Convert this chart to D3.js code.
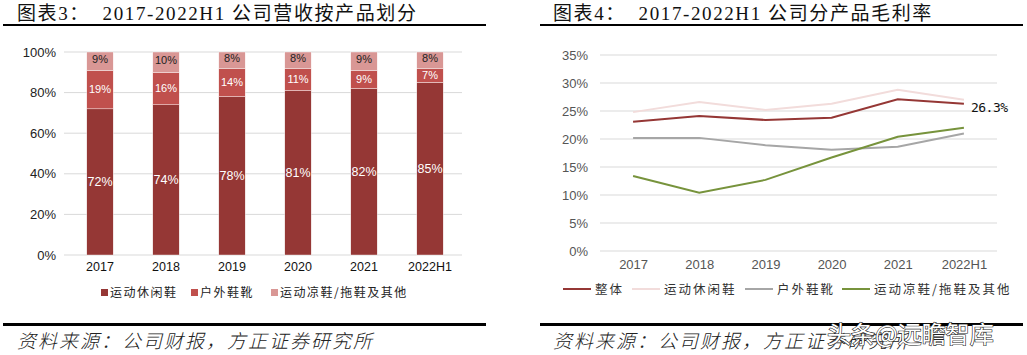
<!DOCTYPE html>
<html><head><meta charset="utf-8">
<script src="https://cdn.jsdelivr.net/npm/d3@7"></script>
<style>
body{margin:0;background:#fff;}
svg text{font-family:Arial,"Liberation Sans","Noto Sans CJK SC",sans-serif;}
</style></head>
<body><svg id="c" width="1027" height="355"></svg>
<script>
// ---- data ----
const categories = ["2017","2018","2019","2020","2021","2022H1"];
const shareCasual = [72,74,78,81,82,85];
const shareOutdoor = [19,16,14,11,9,7];
const shareSandal = [9,10,8,8,9,8];
const barSeriesNames = ["运动休闲鞋","户外鞋靴","运动凉鞋/拖鞋及其他"];
const barTicks = [0,20,40,60,80,100];

const marginTotal = [23.1,24.1,23.4,23.8,27.1,26.3];
const marginCasual = [24.8,26.6,25.2,26.3,28.8,27.0];
const marginOutdoor = [20.2,20.2,18.9,18.1,18.6,21.0];
const marginSandal = [13.4,10.4,12.7,16.7,20.4,22.0];
const lineSeriesNames = ["整体","运动休闲鞋","户外鞋靴","运动凉鞋/拖鞋及其他"];
const lineTicks = [0,5,10,15,20,25,30,35];

const titleLeft = "图表3：  2017-2022H1 公司营收按产品划分";
const titleRight = "图表4：  2017-2022H1 公司分产品毛利率";
const sourceText = "资料来源：公司财报，方正证券研究所";

const svg = d3.select("#c");
const barColors = ["#953735","#C0504D","#D99795"];
const lineColors = ["#953735","#F2DCDB","#A6A6A6","#77933C"];
const titleFont = '"Liberation Serif","Noto Sans CJK SC",serif';

function header(x0, x1, tx, title){
  svg.append("text").attr("x",tx).attr("y",20).attr("font-size",19).attr("letter-spacing",1.6)
    .style("font-family",titleFont).attr("fill","#111").attr("xml:space","preserve").text(title);
  svg.append("line").attr("x1",x0).attr("x2",x1).attr("y1",25).attr("y2",25).attr("stroke","#000").attr("stroke-width",2);
  svg.append("line").attr("x1",x0).attr("x2",x1).attr("y1",324.5).attr("y2",324.5).attr("stroke","#000").attr("stroke-width",3);
  svg.append("text").attr("x",tx).attr("y",348).attr("font-size",19).attr("letter-spacing",2)
    .style("font-family",'"Noto Sans CJK SC",sans-serif').style("font-style","italic").attr("font-weight",300)
    .attr("fill","#222").text(sourceText);
}
header(3,486,17,titleLeft);
header(540,1023,553,titleRight);

// ---- left: stacked bars ----
{
  const x = d3.scaleBand().domain(categories).range([67,463]).paddingInner(0.6).paddingOuter(0.3);
  const y = d3.scaleLinear().domain([0,100]).range([255,52]);
  const g = svg.append("g");
  g.selectAll("line.grid").data(barTicks).join("line")
    .attr("x1",64).attr("x2",462).attr("y1",d=>y(d)).attr("y2",d=>y(d)).attr("stroke","#d9d9d9").attr("stroke-width",1);
  const yAxis = d3.axisLeft(y).tickValues(barTicks).tickFormat(d=>d+"%").tickSize(0).tickPadding(0);
  const ya = g.append("g").attr("transform","translate(56,0)").call(yAxis);
  ya.select(".domain").remove();
  ya.selectAll("text").attr("font-size",13).attr("fill","#222").style("font-family","Arial,sans-serif");
  const xAxis = d3.axisBottom(x).tickSize(0).tickPadding(0);
  const xa = g.append("g").attr("transform","translate(0,262)").call(xAxis);
  xa.select(".domain").remove();
  xa.selectAll("text").attr("font-size",12.5).attr("fill","#111").style("font-family","Arial,sans-serif");

  const rows = categories.map((c,i)=>({cat:c, s0:shareCasual[i], s1:shareOutdoor[i], s2:shareSandal[i]}));
  const stack = d3.stack().keys(["s0","s1","s2"])(rows);
  stack.forEach((layer,k)=>{
    g.append("g").selectAll("rect").data(layer).join("rect")
      .attr("x",d=>x(d.data.cat)).attr("width",x.bandwidth())
      .attr("y",d=>y(d[1])).attr("height",d=>y(d[0])-y(d[1]))
      .attr("fill",barColors[k]).attr("stroke","#fff").attr("stroke-width",0.4);
    g.append("g").selectAll("text").data(layer).join("text")
      .attr("x",d=>x(d.data.cat)+x.bandwidth()/2)
      .attr("y",d=>(y(d[0])+y(d[1]))/2 + (k===2? -2: 0))
      .attr("dy","0.35em").attr("text-anchor","middle")
      .attr("font-size",k===0?12.5:11).attr("fill",k===2?"#222":"#fff")
      .style("font-family","Arial,sans-serif")
      .text(d=>(d[1]-d[0])+"%");
  });
  // legend
  const lx = [101,191,271];
  barSeriesNames.forEach((n,k)=>{
    svg.append("rect").attr("x",lx[k]).attr("y",289).attr("width",7).attr("height",7).attr("fill",barColors[k]);
    svg.append("text").attr("x",lx[k]+9).attr("y",297).attr("font-size",12).attr("fill","#222")
      .style("font-family",'"Noto Sans CJK SC",sans-serif').attr("letter-spacing",1.5).text(n);
  });
}

// ---- right: lines ----
{
  const x = d3.scalePoint().domain(categories).range([600,997]).padding(0.5);
  const y = d3.scaleLinear().domain([0,35]).range([251,55]);
  const g = svg.append("g");
  g.selectAll("line.grid").data(lineTicks).join("line")
    .attr("x1",600).attr("x2",997).attr("y1",d=>y(d)).attr("y2",d=>y(d)).attr("stroke","#d9d9d9").attr("stroke-width",1);
  const ya = g.append("g").attr("transform","translate(588,0)")
    .call(d3.axisLeft(y).tickValues(lineTicks).tickFormat(d=>d+"%").tickSize(0).tickPadding(0));
  ya.select(".domain").remove();
  ya.selectAll("text").attr("font-size",13).attr("fill","#555").style("font-family","Arial,sans-serif");
  const xa = g.append("g").attr("transform","translate(0,260)")
    .call(d3.axisBottom(x).tickSize(0).tickPadding(0));
  xa.select(".domain").remove();
  xa.selectAll("text").attr("font-size",13).attr("fill","#555").style("font-family","Arial,sans-serif");

  const series = [marginTotal, marginCasual, marginOutdoor, marginSandal];
  const line = d3.line().x((d,i)=>x(categories[i])).y(d=>y(d));
  [1,2,3,0].forEach(k=>{
    g.append("path").datum(series[k]).attr("d",line).attr("fill","none")
      .attr("stroke",lineColors[k]).attr("stroke-width",2);
  });
  const last = categories.length-1;
  g.append("text").attr("x",x(categories[last])+7).attr("y",y(marginTotal[last])+4).attr("dy","0.35em")
    .attr("font-size",13).attr("fill","#111").style("font-family",'"DejaVu Sans Mono",monospace')
    .attr("letter-spacing",-0.5).text(marginTotal[last].toFixed(1)+"%");

  const lx = [563,632,745,842];
  lineSeriesNames.forEach((n,k)=>{
    svg.append("line").attr("x1",lx[k]).attr("x2",lx[k]+28).attr("y1",289).attr("y2",289)
      .attr("stroke",lineColors[k]).attr("stroke-width",2);
    svg.append("text").attr("x",lx[k]+32).attr("y",294).attr("font-size",12.5).attr("fill","#333")
      .style("font-family",'"Noto Sans CJK SC",sans-serif').attr("letter-spacing",2).text(n);
  });
}
// watermark
svg.append("text").attr("x",827).attr("y",343).attr("font-size",24)
  .style("font-family",'"Noto Sans CJK SC",sans-serif').attr("fill","#fff")
  .attr("stroke","#222").attr("stroke-width",1.2).attr("paint-order","stroke").text("头条@远瞻智库");
</script></body></html>
